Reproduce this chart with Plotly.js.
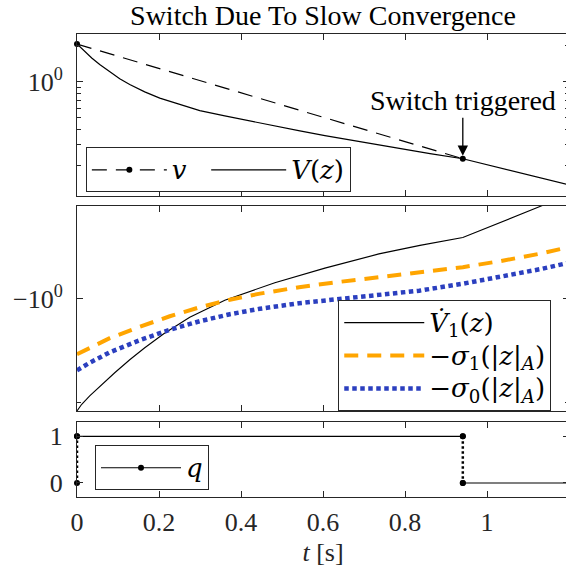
<!DOCTYPE html>
<html>
<head>
<meta charset="utf-8">
<script src="https://cdn.plot.ly/plotly-3.0.1.min.js"></script>
<style>html,body{margin:0;padding:0;overflow:hidden;background:#fff}</style>
</head>
<body>
<div id="chart"></div>
<script>
// ---- data ----
const tV = [0, 0.0188, 0.0359, 0.0554, 0.0798, 0.1042, 0.1286, 0.1652, 0.2019, 0.2507, 0.2995, 0.3605, 0.4215, 0.4826, 0.5436, 0.6046, 0.6656, 0.7267, 0.7877, 0.861, 0.941, 1.0, 1.1, 1.2];
const Vz = [2.062, 1.785, 1.576, 1.391, 1.205, 1.057, 0.948, 0.824, 0.731, 0.644, 0.575, 0.519, 0.4695, 0.4266, 0.389, 0.356, 0.327, 0.301, 0.2778, 0.252, 0.228, 0.203, 0.168, 0.138];
const tv = [0, 0.941];
const vVals = [2.062, 0.228];

const tV1 = [0, 0.0115, 0.031, 0.0554, 0.092, 0.1286, 0.1653, 0.2116, 0.275, 0.3605, 0.4825, 0.6046, 0.7364, 0.8365, 0.941, 1.1335, 1.2];
const V1dotMag = [2.121, 2.029, 1.917, 1.798, 1.643, 1.506, 1.390, 1.266, 1.133, 1.011, 0.900, 0.816, 0.742, 0.701, 0.665, 0.538, 0.500];
const tSig = [0, 0.031, 0.0798, 0.153, 0.2263, 0.2996, 0.3728, 0.446, 0.5418, 0.6394, 0.737, 0.8346, 0.941, 1.0317, 1.1294, 1.2];
const sigma1Mag = [1.452, 1.390, 1.304, 1.208, 1.126, 1.060, 1.008, 0.968, 0.927, 0.895, 0.867, 0.841, 0.811, 0.779, 0.741, 0.709];
const sigma0Mag = [1.616, 1.537, 1.433, 1.322, 1.232, 1.164, 1.111, 1.071, 1.032, 1.003, 0.978, 0.949, 0.906, 0.867, 0.822, 0.787];

const switchTimes = [0, 0.941];
const qBefore = [0, 1];
const qAfter = [1, 0];
const tEnd = 1.2;

const xTickVals = [0, 0.2, 0.4, 0.6, 0.8, 1];
const xTickText = ['0', '0.2', '0.4', '0.6', '0.8', '1'];
const topMinor = [0.2, 0.3, 0.4, 0.5, 0.6, 0.7, 0.8, 0.9, 2];
const midMinor = [2];

// ---- build q segments ----
const qSolidX = [], qSolidY = [], qJumpX = [], qJumpY = [];
for (let i = 0; i < switchTimes.length; i++) {
  const t0 = switchTimes[i];
  const t1 = i + 1 < switchTimes.length ? switchTimes[i + 1] : tEnd;
  qSolidX.push(t0, t1, null); qSolidY.push(qAfter[i], qAfter[i], null);
  qJumpX.push(t0, t0, null); qJumpY.push(qBefore[i], qAfter[i], null);
}

const ink = '#262626';
const orange = '#FFA500';
const blue = '#2B3FBF';
const FONT = 'Liberation Serif';
const MATHFONT = 'DejaVu Serif';
const big = s => '<span style="font-size:26px">' + s + '</span>';
const NB = '\u00A0';

const traces = [
  {x: tv, y: vVals, xaxis: 'x', yaxis: 'y', mode: 'lines+markers', name: big('<i>v</i>') + NB + NB,
   line: {color: '#000', width: 1.2, dash: '15px,9px'}, marker: {color: '#000', size: 6}, cliponaxis: false, legend: 'legend'},
  {x: tV, y: Vz, xaxis: 'x', yaxis: 'y', mode: 'lines', name: big('<i>V</i>(<i>z</i>)'),
   line: {color: '#000', width: 1.2}, legend: 'legend'},
  {x: tV1, y: V1dotMag, xaxis: 'x2', yaxis: 'y2', mode: 'lines', name: big('<i>V\u0307</i><sub>1</sub>(<i>z</i>)'),
   line: {color: '#000', width: 1.1}, legend: 'legend2'},
  {x: tSig, y: sigma1Mag, xaxis: 'x2', yaxis: 'y2', mode: 'lines', name: big('\u2212<i>\u03C3</i><sub>1</sub>(|<i>z</i>|<sub><i>A</i></sub>)'),
   line: {color: orange, width: 4, dash: '14px,9px'}, legend: 'legend2'},
  {x: tSig, y: sigma0Mag, xaxis: 'x2', yaxis: 'y2', mode: 'lines', name: big('\u2212<i>\u03C3</i><sub>0</sub>(|<i>z</i>|<sub><i>A</i></sub>)'),
   line: {color: blue, width: 4.5, dash: '4.5px,3.5px'}, legend: 'legend2'},
  {x: qJumpX, y: qJumpY, xaxis: 'x3', yaxis: 'y3', mode: 'lines+markers', showlegend: false,
   line: {color: '#000', width: 2.5, dash: '2.5px,2.5px'}, marker: {color: '#000', size: 6}, cliponaxis: false},
  {x: qSolidX, y: qSolidY, xaxis: 'x3', yaxis: 'y3', mode: 'lines+markers', name: big('<i>q</i>'),
   line: {color: '#000', width: 1.2}, marker: {color: '#000', size: 6}, cliponaxis: false, legend: 'legend3'}
];

const xCommon = {range: [0, 1.2], tickmode: 'array', tickvals: xTickVals, ticktext: xTickText,
  ticks: 'inside', ticklen: 6, tickcolor: ink, tickwidth: 1, showline: true, linecolor: ink, linewidth: 1,
  mirror: 'allticks', zeroline: false, showgrid: false};
const yCommon = {ticks: 'inside', ticklen: 6, tickcolor: ink, tickwidth: 1, showline: true, linecolor: ink,
  linewidth: 1, mirror: 'allticks', zeroline: false, showgrid: false, tickmode: 'array', ticklabelstandoff: 8};
const minorCommon = {ticks: 'inside', ticklen: 4, tickcolor: ink, tickwidth: 1, tickmode: 'array', showgrid: false};

const legendCommon = {bordercolor: ink, borderwidth: 1, bgcolor: '#fff', xanchor: 'left', yanchor: 'top',
  font: {family: MATHFONT, size: 23, color: '#000'}, itemclick: false};

const layout = {
  width: 600, height: 576,
  margin: {l: 77, r: 31, t: 34, b: 79.3, pad: 0},
  paper_bgcolor: '#fff', plot_bgcolor: '#fff',
  font: {family: FONT, size: 26, color: ink},
  title: {text: 'Switch Due To Slow Convergence', x: 0.5, xref: 'paper', xanchor: 'center',
          y: 1 - 15 / 576, yref: 'container', yanchor: 'middle', font: {family: FONT, size: 28, color: '#000'}},
  xaxis: Object.assign({}, xCommon, {anchor: 'y', showticklabels: false}),
  xaxis2: Object.assign({}, xCommon, {anchor: 'y2', showticklabels: false}),
  xaxis3: Object.assign({}, xCommon, {anchor: 'y3', showticklabels: true, ticklabelstandoff: 2,
          title: {text: '<i>t</i> [s]', standoff: 6, font: {family: FONT, size: 26, color: ink}}}),
  yaxis: Object.assign({}, yCommon, {type: 'log', domain: [0.6505, 1], anchor: 'x',
          range: [Math.log10(0.112), Math.log10(2.5)], tickvals: [1], ticktext: ['10<sup>0</sup>'],
          minor: Object.assign({}, minorCommon, {tickvals: topMinor})}),
  yaxis2: Object.assign({}, yCommon, {type: 'log', domain: [0.1859, 0.6289], anchor: 'x2',
          range: [Math.log10(2.121), Math.log10(0.538)], tickvals: [1], ticktext: ['\u221210<sup>0</sup>'],
          minor: Object.assign({}, minorCommon, {tickvals: midMinor})}),
  yaxis3: Object.assign({}, yCommon, {domain: [0, 0.1614], anchor: 'x3', range: [-0.3, 1.3],
          tickvals: [0, 1], ticktext: ['0', '1']}),
  legend: Object.assign({}, legendCommon, {x: 0.018, y: 0.7551, orientation: 'h', itemwidth: 75}),
  legend2: Object.assign({}, legendCommon, {x: 0.531, y: 0.4251, orientation: 'v', itemwidth: 80}),
  legend3: Object.assign({}, legendCommon, {x: 0.0366, y: 0.1117, orientation: 'v', itemwidth: 80}),
  annotations: [{
    x: switchTimes[1], y: Math.log10(vVals[1]), xref: 'x', yref: 'y',
    text: 'Switch triggered', showarrow: true, ax: 0, ay: -58, standoff: 3,
    arrowhead: 2, arrowsize: 1.6, arrowwidth: 1.3, arrowcolor: '#000',
    font: {family: FONT, size: 28, color: '#000'}
  }],
  showlegend: true
};

Plotly.newPlot('chart', traces, layout, {displayModeBar: false, staticPlot: true});
</script>
</body>
</html>
